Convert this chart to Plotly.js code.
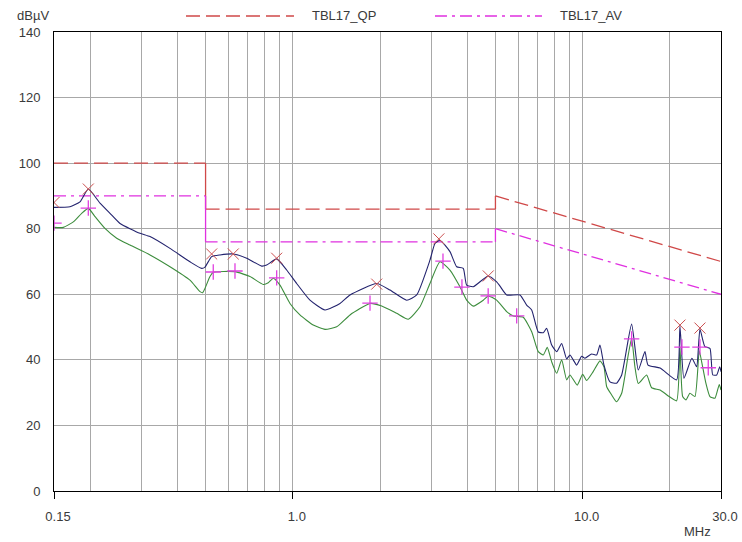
<!DOCTYPE html>
<html>
<head>
<meta charset="utf-8">
<script src="https://cdn.plot.ly/plotly-3.0.1.min.js"></script>
<style>html,body{margin:0;padding:0;background:#fff;}#chart{width:742px;height:542px;}</style>
</head>
<body>
<div id="chart"></div>
<script>
// Limit lines (MHz, dBµV)
const qpLimitFreq = [0.15, 0.5, 0.5, 5, 5, 30];
const qpLimitLevel = [100, 100, 86, 86, 90, 70];
const avLimitFreq = [0.15, 0.5, 0.5, 5, 5, 30];
const avLimitLevel = [90, 90, 76, 76, 80, 60];

// Peak (blue) measurement trace
const peakFreq = [0.150, 0.1703, 0.1844, 0.1970, 0.2162, 0.2340, 0.2534, 0.2970, 0.3216, 0.3769, 0.4418, 0.4848, 0.4977, 0.5248, 0.5606, 0.6231, 0.6931, 0.7808, 0.8124, 0.8796, 0.9523, 1.031, 1.146, 1.291, 1.455, 1.575, 1.947, 2.163, 2.471, 2.675, 2.972, 3.093, 3.218, 3.484, 3.675, 3.872, 3.978, 4.193, 4.723, 5.049, 5.183, 5.466, 6.076, 6.408, 6.668, 7.026, 7.311, 7.511, 7.816, 8.132, 8.462, 8.804, 9.038, 9.277, 9.531, 9.917, 10.18, 10.74, 11.17, 11.47, 11.84, 12.42, 13.09, 13.63, 14.75, 15.55, 16.40, 16.80, 18.50, 21.09, 21.65, 22.35, 23.80, 24.72, 25.38, 26.40, 27.48, 28.10, 29.00, 29.70, 30.0];
const peakLevel = [86.5, 86.7, 88.2, 92.1, 87.8, 84.7, 81.6, 78.6, 77.6, 74.0, 69.9, 67.9, 68.3, 71.5, 72.0, 72.3, 71.0, 68.6, 68.9, 70.8, 67.4, 63.3, 58.2, 55.2, 57.2, 59.8, 63.3, 61.3, 58.2, 59.8, 70.4, 75.5, 76.5, 73.0, 68.4, 67.9, 62.8, 62.3, 65.6, 63.8, 62.5, 59.8, 59.8, 56.7, 55.2, 48.5, 48.3, 49.6, 44.5, 42.5, 45.0, 40.3, 41.5, 40.0, 38.4, 41.1, 40.5, 41.8, 41.5, 44.5, 38.4, 33.3, 32.9, 35.4, 50.9, 36.9, 42.5, 38.4, 37.5, 33.9, 50.3, 34.4, 40.5, 37.9, 49.3, 44.0, 43.5, 35.4, 35.4, 37.9, 36.4];

// Average (green) measurement trace
const avgFreq = [0.150, 0.1615, 0.1749, 0.1869, 0.1970, 0.2078, 0.2249, 0.2468, 0.2743, 0.3216, 0.3769, 0.4418, 0.4783, 0.4887, 0.4977, 0.5178, 0.5315, 0.6316, 0.7115, 0.7908, 0.8228, 0.8561, 0.9030, 0.9776, 1.058, 1.176, 1.291, 1.417, 1.575, 1.846, 2.026, 2.282, 2.502, 2.746, 2.972, 3.218, 3.484, 3.772, 3.978, 4.193, 4.539, 4.723, 5.049, 5.466, 5.761, 6.237, 6.668, 7.026, 7.311, 7.547, 7.816, 8.132, 8.462, 8.804, 9.038, 9.577, 9.996, 10.32, 10.87, 11.47, 11.84, 12.10, 12.59, 13.09, 13.63, 14.36, 14.75, 15.14, 15.55, 16.62, 17.29, 18.50, 19.73, 21.09, 21.65, 22.12, 22.71, 23.44, 24.39, 25.24, 25.73, 26.62, 27.48, 28.59, 29.59, 30.0];
const avgLevel = [80.4, 80.4, 82.1, 84.7, 86.2, 83.7, 80.1, 77.1, 75.0, 72.0, 68.4, 64.3, 60.8, 60.5, 61.8, 65.4, 66.7, 66.9, 65.4, 63.0, 63.5, 64.9, 62.8, 57.2, 53.7, 50.6, 49.3, 50.1, 53.7, 57.2, 56.4, 54.2, 52.4, 56.2, 63.3, 69.9, 67.4, 62.3, 58.2, 56.4, 58.2, 59.5, 58.2, 54.7, 53.4, 53.0, 48.6, 42.5, 41.5, 43.8, 39.4, 35.9, 40.0, 33.9, 35.4, 32.3, 35.6, 33.7, 36.4, 39.7, 37.9, 31.8, 29.3, 27.2, 29.8, 41.5, 46.6, 37.9, 32.8, 35.4, 31.5, 30.8, 29.0, 27.5, 44.0, 28.8, 27.8, 29.8, 28.8, 42.8, 39.4, 32.8, 28.8, 28.3, 32.5, 30.8];

// Marker lists
const qpMarkFreq = [0.150, 0.1970, 0.5248, 0.6231, 0.8796, 1.947, 3.19, 4.723, 21.65, 25.38];
const qpMarkLevel = [88.0, 92.1, 72.3, 72.3, 71.0, 63.1, 76.9, 65.6, 50.6, 49.7];
const avMarkFreq = [0.150, 0.1970, 0.5315, 0.6316, 0.8796, 1.846, 3.296, 3.832, 4.720, 5.919, 14.75, 22.00, 25.38, 27.11];
const avMarkLevel = [81.7, 86.3, 66.8, 67.1, 65.0, 57.3, 70.1, 62.2, 59.5, 53.4, 46.4, 43.9, 43.9, 37.6];

// Axis labels / grid
const xTickVals = [0.15, 1, 10, 30];
const xTickText = ['0.15', '1.0', '10.0', '30.0'];
const gridFreqs = [0.2, 0.3, 0.4, 0.5, 0.6, 0.7, 0.8, 0.9, 2, 3, 4, 5, 6, 7, 8, 9, 20];
const yTickVals = [0, 20, 40, 60, 80, 100, 120, 140];

const FONT = 'Liberation Sans, Arial, sans-serif';
const TXT = '#3a3a3a';
const QP_COLOR = '#d04848';
const AV_COLOR = '#e030e0';
const QP_DASH = '14px,6px';
const AV_DASH = '12px,5px,3px,5px';

// Split a limit line into segments: vertical steps drawn solid, the rest dashed.
function limitTraces(fr, lv, color, dash) {
  const out = [];
  for (let i = 0; i < fr.length - 1; i++) {
    const vertical = fr[i] === fr[i + 1];
    out.push({
      x: [fr[i], fr[i + 1]], y: [lv[i], lv[i + 1]], mode: 'lines',
      line: {color: color, width: 1.3, dash: vertical ? 'solid' : dash},
      hoverinfo: 'skip'
    });
  }
  return out;
}

const traces = [].concat(
  limitTraces(qpLimitFreq, qpLimitLevel, QP_COLOR, QP_DASH),
  limitTraces(avLimitFreq, avLimitLevel, AV_COLOR, AV_DASH),
  [
    {x: avgFreq, y: avgLevel, mode: 'lines', line: {color: '#3c8c3c', width: 1.1, shape: 'spline', smoothing: 0.5}},
    {x: peakFreq, y: peakLevel, mode: 'lines', line: {color: '#23236e', width: 1.1, shape: 'spline', smoothing: 0.5}},
    {x: qpMarkFreq, y: qpMarkLevel, mode: 'markers', marker: {symbol: 'x-thin-open', size: 11, color: '#cc5050', line: {color: '#cc5050', width: 1}}},
    {x: avMarkFreq, y: avMarkLevel, mode: 'markers', marker: {symbol: 'cross-thin-open', size: 11, color: '#e040e0', line: {color: '#e040e0', width: 1.3}}}
  ]
);

const layout = {
  width: 742, height: 542,
  margin: {l: 54, r: 21, t: 32, b: 51},
  paper_bgcolor: '#ffffff', plot_bgcolor: '#ffffff',
  showlegend: false,
  font: {family: FONT, size: 13, color: TXT},
  xaxis: {
    type: 'log',
    range: [Math.log10(0.15), Math.log10(30)],
    tickmode: 'array', tickvals: xTickVals, ticktext: xTickText,
    ticks: 'outside', ticklen: 7, tickcolor: '#000', tickwidth: 1,
    ticklabelstandoff: 6, ticklabelshift: 4,
    showgrid: true, gridcolor: '#a8a8a8', gridwidth: 1,
    minor: {tickmode: 'array', tickvals: gridFreqs, showgrid: true, gridcolor: '#a8a8a8', gridwidth: 1, ticks: ''},
    showline: true, linecolor: '#000', linewidth: 1, mirror: true,
    zeroline: false, fixedrange: true,
    tickfont: {family: FONT, size: 13, color: TXT}
  },
  yaxis: {
    range: [0, 140],
    tickmode: 'array', tickvals: yTickVals,
    ticks: '', ticklabelstandoff: 10,
    showgrid: true, gridcolor: '#a8a8a8', gridwidth: 1,
    showline: true, linecolor: '#000', linewidth: 1, mirror: true,
    zeroline: false, fixedrange: true,
    tickfont: {family: FONT, size: 13, color: TXT}
  },
  shapes: [
    {type: 'line', xref: 'paper', yref: 'paper', x0: 0.1979, x1: 0.3598, y0: 1.0349, y1: 1.0349, line: {color: QP_COLOR, width: 1.3, dash: QP_DASH}},
    {type: 'line', xref: 'paper', yref: 'paper', x0: 0.5712, x1: 0.7316, y0: 1.0349, y1: 1.0349, line: {color: AV_COLOR, width: 1.3, dash: AV_DASH}}
  ],
  annotations: [
    {text: 'TBL17_QP', xref: 'paper', yref: 'paper', x: 0.3838, y: 1.0349, xanchor: 'left', yanchor: 'middle', showarrow: false, font: {family: FONT, size: 13, color: TXT}},
    {text: 'TBL17_AV', xref: 'paper', yref: 'paper', x: 0.7556, y: 1.0349, xanchor: 'left', yanchor: 'middle', showarrow: false, font: {family: FONT, size: 13, color: TXT}},
    {text: 'dBµV', xref: 'paper', yref: 'paper', x: -0.0585, y: 1.0349, xanchor: 'left', yanchor: 'middle', showarrow: false, font: {family: FONT, size: 13, color: TXT}},
    {text: 'MHz', xref: 'paper', yref: 'paper', x: 0.9655, y: -0.0893, xanchor: 'center', yanchor: 'middle', showarrow: false, font: {family: FONT, size: 13, color: TXT}}
  ]
};

Plotly.newPlot('chart', traces, layout, {displayModeBar: false, staticPlot: true});
</script>
</body>
</html>
